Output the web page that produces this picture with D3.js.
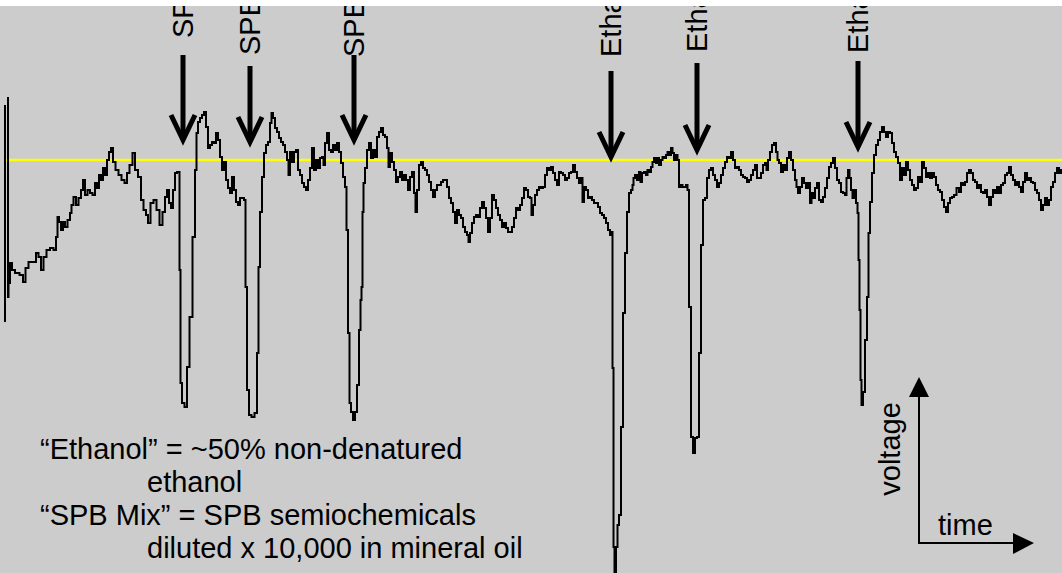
<!DOCTYPE html>
<html>
<head>
<meta charset="utf-8">
<script src="https://cdn.jsdelivr.net/npm/d3@7"></script>
<style>
  html, body { margin: 0; padding: 0; background: #ffffff; }
  svg { display: block; }
  text { font-family: "Liberation Sans", Arial, sans-serif; fill: #000; }
</style>
</head>
<body>
<svg id="chart" width="1062" height="573"></svg>
<script>
// Electroantennogram trace: [time (samples), voltage (relative to threshold)]
const trace = [
  [0,63],[0,-137],[1,-123],[3,-103],[5,-110],[9,-113],[14,-115],[16,-122],[19,-108],[22,-102],
  [27,-102],[29,-93],[32,-97],[34,-110],[37,-97],[40,-90],[44,-88],[47,-90],[49,-77],[50,-57],
  [52,-62],[54,-70],[56,-62],[58,-67],[61,-60],[63,-53],[64,-45],[67,-37],[69,-45],[72,-38],
  [74,-30],[76,-20],[78,-35],[81,-30],[83,-33],[86,-35],[88,-23],[90,-28],[92,-15],[94,-20],
  [96,-8],[98,-15],[100,0],[102,8],[104,12],[106,-2],[109,-10],[112,-15],[115,-20],[118,-23],
  [120,-13],[123,-5],[126,7],[128,-10],[132,-17],[134,-40],[137,-50],[139,-55],[141,-63],[144,-43],
  [147,-40],[150,-50],[153,-65],[156,-52],[158,-37],[160,-30],[162,-43],[164,-48],[166,-30],[168,-13],
  [170,-12],[171,-12],[172,-110],[173,-223],[175,-243],[178,-247],[180,-207],[183,-157],[186,-77],[188,-10],
  [189,27],[191,38],[193,42],[195,45],[197,48],[199,33],[201,12],[203,15],[205,18],[207,17],
  [209,27],[211,20],[213,3],[215,-10],[217,-2],[219,-20],[221,-28],[223,-33],[225,-17],[227,-30],
  [229,-42],[231,-45],[233,-38],[235,-38],[237,-40],[238,-127],[240,-230],[242,-255],[245,-257],[248,-253],
  [250,-193],[251,-107],[253,-52],[255,-17],[257,7],[259,15],[261,18],[263,37],[264,47],[266,42],
  [268,32],[270,28],[272,22],[274,18],[276,15],[278,8],[280,0],[281,-15],[283,8],[285,-2],
  [287,8],[289,10],[291,-10],[293,-15],[295,-23],[297,-27],[299,-30],[301,-20],[303,-8],[305,12],
  [307,-10],[309,0],[311,-8],[313,2],[315,3],[316,-5],[318,17],[320,27],[322,10],[324,8],
  [326,15],[328,10],[330,17],[332,8],[334,-3],[336,-17],[338,-27],[339,-70],[341,-173],[342,-243],
  [344,-252],[346,-260],[348,-252],[350,-225],[352,-170],[353,-140],[354,-127],[355,-52],[356,-23],[358,-8],
  [360,10],[362,17],[364,2],[366,10],[368,3],[370,23],[372,28],[374,32],[376,25],[378,23],
  [380,12],[381,-7],[383,7],[385,-2],[387,-10],[389,-22],[391,-17],[393,-12],[395,-20],[397,-15],
  [399,-20],[401,-30],[403,-17],[405,-12],[407,-33],[408,-52],[410,-30],[412,-5],[414,-2],[416,-8],
  [418,-10],[420,-15],[422,-22],[424,-30],[426,-37],[428,-30],[430,-25],[432,-25],[434,-22],[436,-20],
  [438,-20],[440,-27],[442,-38],[444,-43],[446,-52],[448,-63],[450,-50],[452,-55],[454,-58],[456,-67],
  [458,-72],[460,-75],[461,-82],[463,-73],[465,-63],[467,-57],[469,-55],[471,-57],[473,-48],[475,-42],
  [477,-48],[479,-58],[481,-72],[483,-58],[485,-35],[487,-40],[489,-48],[491,-55],[493,-60],[495,-67],
  [497,-63],[499,-68],[501,-72],[503,-72],[505,-67],[507,-58],[509,-48],[511,-50],[513,-45],[515,-38],
  [517,-28],[519,-30],[521,-37],[523,-38],[524,-55],[526,-45],[528,-35],[530,-30],[532,-27],[534,-28],
  [536,-27],[538,-15],[540,-8],[542,-10],[544,-7],[546,-13],[548,-20],[550,-25],[552,-12],[554,-13],
  [556,-15],[558,-20],[560,-18],[562,-13],[564,-12],[566,-5],[568,-12],[570,-18],[572,-23],[574,-18],
  [575,-42],[577,-27],[579,-30],[581,-38],[583,-37],[585,-40],[587,-43],[589,-43],[591,-47],[593,-53],
  [595,-55],[597,-58],[599,-63],[601,-70],[603,-75],[604,-72],[605,-208],[606,-387],[607,-415],[609,-387],
  [610,-365],[612,-355],[614,-267],[616,-153],[618,-93],[620,-52],[622,-33],[624,-30],[625,-25],[626,-18],
  [628,-15],[630,-20],[632,-12],[633,-22],[635,-13],[637,-12],[639,-15],[640,-10],[642,-12],[644,-7],
  [645,-2],[647,2],[649,-3],[650,2],[652,-5],[654,0],[655,3],[657,2],[659,5],[660,8],
  [662,5],[664,12],[665,7],[667,0],[669,5],[670,0],[672,-27],[674,-25],[675,-27],[677,-27],
  [679,-25],[680,-30],[682,-147],[684,-277],[686,-293],[688,-278],[690,-277],[692,-193],[694,-85],[696,-40],
  [698,-38],[700,-18],[702,-10],[704,-8],[706,-15],[708,-20],[710,-27],[712,-23],[714,-15],[716,-8],
  [718,-2],[720,3],[722,2],[724,8],[726,0],[728,-8],[730,-7],[732,-10],[734,-15],[736,-17],
  [738,-18],[740,-22],[742,-20],[744,-15],[746,-10],[748,-5],[750,-18],[752,-18],[754,-13],[756,-5],
  [758,-3],[759,-10],[761,0],[763,8],[765,15],[767,17],[769,8],[770,0],[772,-3],[774,-12],
  [776,-5],[778,-10],[780,2],[782,8],[784,0],[786,-10],[788,-20],[789,-27],[791,-33],[793,-27],
  [795,-18],[797,-23],[799,-28],[801,-23],[803,-43],[804,-33],[806,-38],[808,-28],[810,-23],[812,-40],
  [814,-42],[816,-37],[818,-28],[820,-18],[822,-7],[824,-3],[826,2],[828,-8],[830,-20],[832,-23],
  [834,-32],[836,-33],[838,-35],[839,-18],[841,-10],[842,-18],[844,-30],[845,-38],[847,-30],[849,-43],
  [850,-53],[851,-100],[852,-150],[853,-220],[854,-245],[856,-232],[858,-180],[860,-137],[861,-73],[863,-42],
  [865,-13],[867,5],[869,15],[871,20],[873,28],[875,33],[877,28],[879,23],[881,28],[883,27],
  [885,17],[887,8],[889,3],[891,-3],[893,-20],[895,-8],[897,-15],[899,-2],[901,-10],[903,-20],
  [905,-25],[907,-30],[909,-28],[911,-17],[913,-22],[915,-2],[917,-8],[919,-17],[921,-13],[923,-18],
  [925,-13],[927,-17],[929,-25],[931,-30],[933,-32],[935,-40],[937,-47],[939,-52],[941,-43],[943,-38],
  [945,-37],[947,-35],[950,-28],[952,-32],[954,-23],[956,-25],[958,-22],[960,-13],[962,-10],[964,-13],
  [966,-20],[968,-22],[970,-28],[972,-25],[974,-32],[976,-33],[978,-30],[980,-37],[982,-45],[984,-37],
  [986,-30],[988,-33],[990,-27],[992,-33],[994,-25],[996,-23],[998,-15],[1000,-13],[1002,-7],[1004,-15],
  [1006,-20],[1008,-25],[1010,-22],[1012,-27],[1014,-32],[1016,-22],[1018,-13],[1020,-20],[1022,-18],[1024,-22],
  [1026,-23],[1028,-30],[1030,-33],[1032,-40],[1034,-50],[1036,-45],[1038,-38],[1040,-45],[1042,-40],[1044,-27],
  [1046,-22],[1048,-13],[1050,-8],[1052,-13],[1054,-10]
];

// Response threshold (voltage units)
const threshold = 0;

// Start-of-recording marker: time and voltage extent
const startMarkerTime = -3;
const startMarkerRange = [55, -162];

// Stimulus puffs
const stimulusTimes  = [175, 242, 346, 603, 689, 850];
const stimulusLabels = ["SPB Mix", "SPB Mix", "SPB Mix", "Ethanol", "Ethanol", "Ethanol"];

// Legend text
const notes = [
  { text: "\u201CEthanol\u201D = ~50% non-denatured", indent: false },
  { text: "ethanol", indent: true },
  { text: "\u201CSPB Mix\u201D = SPB semiochemicals", indent: false },
  { text: "diluted x 10,000 in mineral oil", indent: true }
];
const axisKeyLabels = { y: "voltage", x: "time" };

// ---- layout ----
const W = 1062, H = 573;
const plotTop = 6;
const fontSize = 29;

// arrow geometry in screen space (shaft top, tip, label foot)
const arrowTop   = [55, 66, 55, 71, 63, 61];
const arrowTip   = [140, 142, 140, 157, 150, 147];
const labelFoot  = [38, 55, 57, 57, 52, 53];

const svg = d3.select("#chart");

const x = d3.scaleLinear().domain([0, 1054]).range([8, 1062]);
const y = d3.scaleLinear().domain([-413, 154]).range([H, plotTop]);

svg.append("defs").append("clipPath").attr("id", "plotClip")
  .append("rect").attr("x", 0).attr("y", plotTop).attr("width", W).attr("height", H - plotTop);

svg.append("rect")
  .attr("x", 0).attr("y", plotTop)
  .attr("width", W).attr("height", H - plotTop)
  .attr("fill", "#cccccc");

const plot = svg.append("g").attr("clip-path", "url(#plotClip)");

// threshold line
plot.append("line")
  .attr("x1", x(-2)).attr("x2", W)
  .attr("y1", y(threshold)).attr("y2", y(threshold))
  .attr("stroke", "#ffff00").attr("stroke-width", 2.5);

// start marker
plot.append("line")
  .attr("x1", x(startMarkerTime)).attr("x2", x(startMarkerTime))
  .attr("y1", y(startMarkerRange[0])).attr("y2", y(startMarkerRange[1]))
  .attr("stroke", "#000").attr("stroke-width", 2);

// recorded trace
const line = d3.line()
  .x(d => x(d[0]))
  .y(d => y(d[1]))
  .curve(d3.curveStep);

plot.append("path")
  .datum(trace)
  .attr("d", line)
  .attr("fill", "none")
  .attr("stroke", "#000")
  .attr("stroke-width", 2)
  .attr("stroke-linejoin", "miter");

// stimulus arrows and labels
stimulusTimes.forEach((t, i) => {
  const cx = x(t);
  const g = plot.append("g");
  g.append("line")
    .attr("x1", cx).attr("x2", cx)
    .attr("y1", arrowTop[i]).attr("y2", arrowTip[i] - 4)
    .attr("stroke", "#000").attr("stroke-width", 5);
  g.append("path")
    .attr("d", `M${cx - 12},${arrowTip[i] - 25} L${cx},${arrowTip[i]} L${cx + 12},${arrowTip[i] - 25}`)
    .attr("fill", "none").attr("stroke", "#000").attr("stroke-width", 5)
    .attr("stroke-linejoin", "miter").attr("stroke-miterlimit", 10);
  g.append("text")
    .attr("transform", `translate(${cx},${labelFoot[i]}) rotate(-90)`)
    .attr("dy", "0.36em")
    .attr("font-size", fontSize)
    .text(stimulusLabels[i]);
});

// legend notes
const notesG = svg.append("g");
notes.forEach((n, i) => {
  notesG.append("text")
    .attr("x", n.indent ? 147 : 40)
    .attr("y", 459 + i * 33)
    .attr("font-size", fontSize)
    .text(n.text);
});

// axis key (voltage / time)
const key = svg.append("g");
const ox = 919, oy = 543;
key.append("line").attr("x1", ox).attr("x2", ox).attr("y1", oy + 1).attr("y2", 396)
  .attr("stroke", "#000").attr("stroke-width", 2);
key.append("path").attr("d", `M${ox},377 L${ox + 10},397 L${ox - 10},397 Z`).attr("fill", "#000");
key.append("line").attr("x1", ox - 1).attr("x2", 1014).attr("y1", oy).attr("y2", oy)
  .attr("stroke", "#000").attr("stroke-width", 2);
key.append("path").attr("d", `M1034,${oy} L1013,${oy - 10} L1013,${oy + 11} Z`).attr("fill", "#000");
key.append("text")
  .attr("transform", `translate(900,449) rotate(-90)`)
  .attr("text-anchor", "middle")
  .attr("font-size", fontSize)
  .text(axisKeyLabels.y);
key.append("text")
  .attr("x", 938).attr("y", 535)
  .attr("font-size", fontSize)
  .text(axisKeyLabels.x);
</script>
</body>
</html>
